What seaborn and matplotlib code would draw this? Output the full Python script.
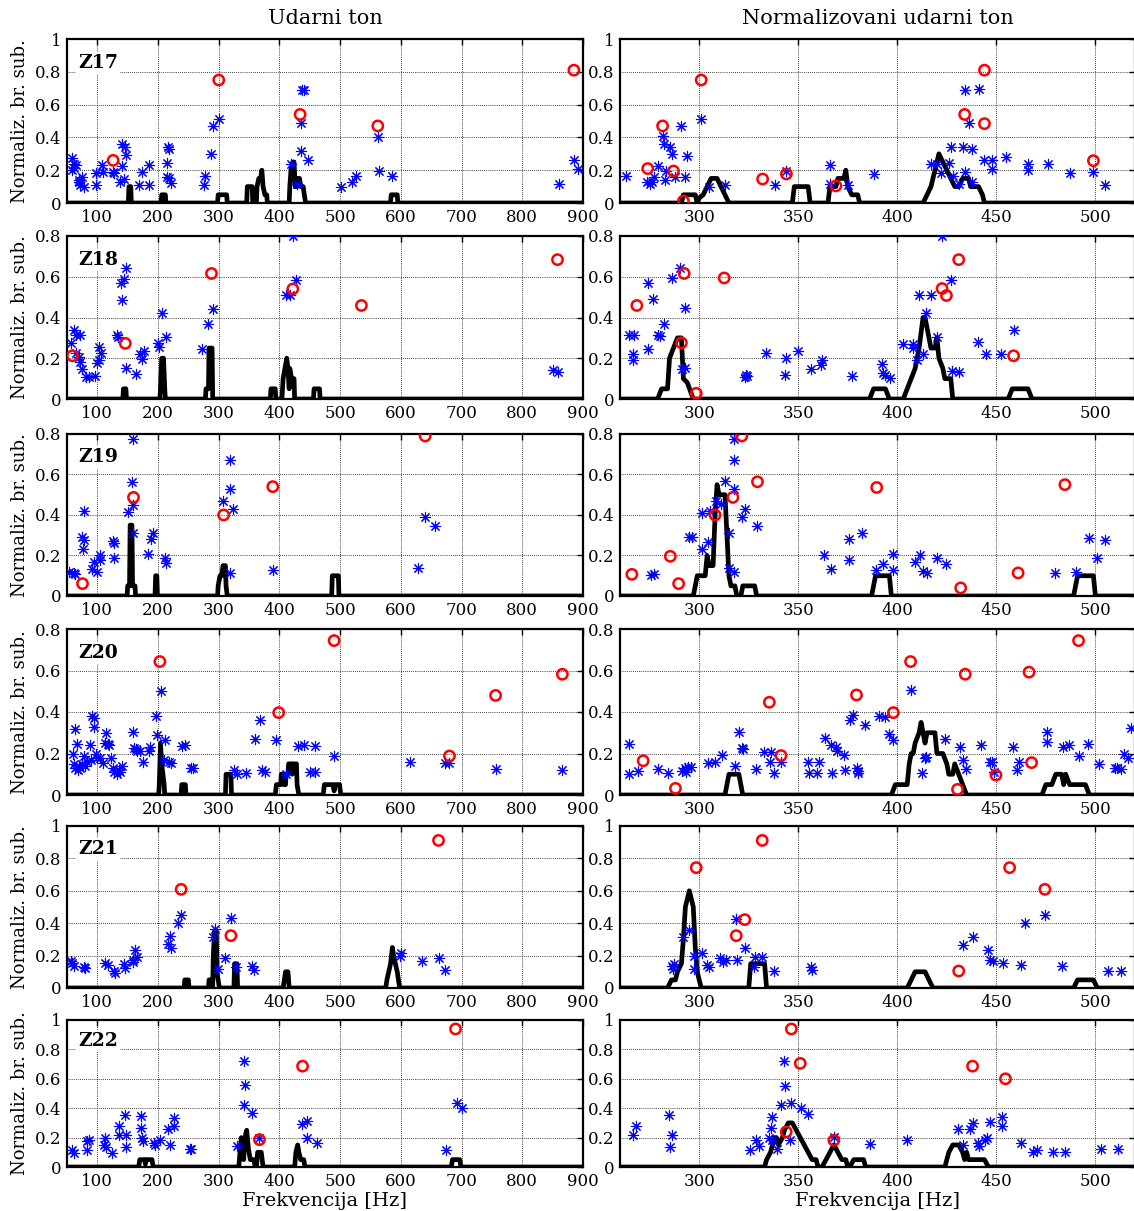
import matplotlib
matplotlib.use("Agg")
import matplotlib.pyplot as plt
from matplotlib.ticker import FuncFormatter, FixedLocator
import seaborn as sns
import pandas as pd

# ---------------- data ----------------
PANELS = ["Z17", "Z18", "Z19", "Z20", "Z21", "Z22"]
YMAX = [1.0, 0.8, 0.8, 0.8, 1.0, 1.0]
LEFT_XLIM = (50, 900)
RIGHT_XLIM = (260, 520)
LEFT_XTICKS = [100, 200, 300, 400, 500, 600, 700, 800, 900]
RIGHT_XTICKS = [300, 350, 400, 450, 500]
COL_TITLES = ["Udarni ton", "Normalizovani udarni ton"]
X_LABEL = "Frekvencija [Hz]"
Y_LABEL = "Normaliz. br. sub."

# Z17
Z17_L_STARS = [(58,0.276),(61,0.24),(62,0.215),(58,0.2),(65,0.23),(69,0.128),(72,0.108),(75,0.16),(78,0.1),(70,0.14),
               (97,0.11),(98,0.18),(108,0.23),(109,0.19),(125,0.19),(128,0.18),(141,0.36),(146,0.34),(148,0.29),(141,0.225),
               (138,0.128),(144,0.145),(169,0.11),(173,0.19),(185,0.23),(185,0.11),(216,0.34),(218,0.33),(215,0.245),(215,0.16),
               (218,0.15),(221,0.125),(277,0.165),(276,0.11),(287,0.3),(291,0.47),(301,0.51),(437,0.687),(441,0.687),(436,0.488),
               (436,0.32),(447,0.26),(419,0.24),(429,0.118),(502,0.1),(520,0.128),(526,0.163),(563,0.40),(564,0.195),(585,0.163),
               (861,0.118),(885,0.264),(891,0.21)]
Z17_L_RINGS = [(126,0.26),(300,0.75),(434,0.54),(562,0.47),(885,0.81)]
Z17_L_CURVE = [(50,0),(151,0),(152,0.1),(155,0.1),(156,0),(205,0),(206,0.05),(212,0.05),(213,0),(298,0),(299,0.05),(313,0.05),
               (314,0),(346,0),(347,0.1),(355,0.1),(356,0),(362,0),(363,0.1),(366,0.15),(369,0.15),(371,0.2),(373,0.1),(376,0.05),
               (379,0.05),(380,0),(416,0),(417,0.1),(419,0.2),(422,0.25),(424,0.25),(426,0.1),(429,0.1),(431,0.15),(433,0.15),
               (435,0.1),(439,0.1),(441,0.05),(443,0),(583,0),(584,0.05),(594,0.05),(595,0),(900,0)]
Z17_R_STARS = [(263,0.163),(273.5,0.128),(275,0.118),(276,0.128),(277,0.158),(279,0.225),(281.5,0.406),(282,0.358),(283,0.195),
               (282.5,0.138),(285,0.34),(286,0.3),(288,0.158),(291,0.47),(293,0.158),(294,0.287),(301,0.514),(305,0.1),(313,0.108),
               (338,0.11),(344,0.195),(366,0.23),(366,0.118),(375,0.11),(388,0.175),(417,0.236),(420,0.24),(422,0.18),(426,0.245),
               (427,0.34),(428,0.163),(431,0.118),(433,0.34),(434,0.19),(434,0.687),(436,0.49),(437.5,0.33),(437.5,0.128),
               (441,0.693),(444,0.264),(448,0.264),(448,0.21),(455,0.28),(466,0.24),(466,0.2),(476,0.236),(487,0.183),(499,0.19),
               (505,0.11)]
Z17_R_RINGS = [(274,0.21),(281.5,0.47),(287,0.195),(292,0.012),(301,0.75),(332,0.146),(344,0.177),(369,0.104),(434,0.54),
               (444,0.81),(444,0.484),(499,0.258)]
Z17_R_CURVE = [(260,0),(291,0),(292,0.05),(298,0.05),(299,0),(300,0.03),(302,0.05),(304,0.1),(306,0.15),(309,0.15),(311,0.1),
               (313,0.05),(315,0),(347,0),(348,0.1),(355,0.1),(356,0),(365,0),(366,0.1),(369,0.1),(370,0.15),(373,0.15),(374,0.2),
               (375,0.1),(377,0.05),(380,0.05),(381,0),(413,0),(415,0.05),(417,0.1),(419,0.2),(421,0.3),(423,0.25),(425,0.2),
               (427,0.15),(429,0.1),(431,0.1),(433,0.15),(436,0.15),(437,0.1),(441,0.1),(443,0.05),(444,0),(520,0)]

# Z18
Z18_L_STARS = [(56,0.276),(61,0.338),(65,0.313),(72,0.312),(69,0.204),(72,0.183),(65,0.227),(75,0.145),(81,0.11),(87,0.11),
               (96,0.113),(100,0.175),(103,0.253),(106,0.224),(103,0.19),(133,0.313),(134,0.302),(139,0.567),(141,0.485),(144,0.59),
               (148,0.645),(148,0.153),(164,0.122),(171,0.22),(173,0.194),(177,0.235),(200,0.273),(202,0.256),(206,0.42),(213,0.305),
               (272,0.243),(283,0.367),(291,0.444),(411,0.51),(418,0.51),(422,0.8),(427,0.586),(850,0.142),(858,0.134)]
Z18_L_RINGS = [(59,0.212),(146,0.273),(288,0.616),(422,0.54),(535,0.459),(858,0.684)]
Z18_L_CURVE = [(50,0),(142,0),(143,0.05),(147,0.05),(148,0),(203,0),(204,0.05),(206,0.2),(209,0.2),(211,0.05),(212,0),(278,0),
               (279,0.05),(283,0.05),(284,0.25),(289,0.25),(290,0),(385,0),(386,0.05),(393,0.05),(394,0),(404,0),(406,0.1),
               (409,0.15),(412,0.2),(414,0.15),(416,0.05),(417,0.15),(420,0.1),(424,0.1),(425,0),(456,0),(457,0.05),(466,0.05),
               (467,0),(900,0)]
Z18_R_STARS = [(264.6,0.313),(267,0.313),(266.5,0.219),(266.5,0.191),(274,0.567),(274,0.243),(276.7,0.49),(279,0.313),(280,0.31),
               (282,0.367),(286,0.594),(290.5,0.643),(292.8,0.447),(291.5,0.147),(293,0.153),(323.5,0.118),(324.3,0.113),(323,0.106),
               (333.7,0.224),(343.7,0.2),(343.3,0.118),(350,0.237),(356.3,0.147),(361.3,0.167),(362,0.191),(377,0.113),(392.4,0.171),
               (393,0.126),(394,0.118),(396.5,0.104),(403,0.268),(407.8,0.268),(408,0.251),(411,0.51),(410,0.19),(413,0.219),
               (414.6,0.423),(416.9,0.51),(420,0.305),(422.6,0.8),(427,0.586),(427.6,0.139),(431,0.134),(440.5,0.281),(444.8,0.219),
               (452.6,0.219),(459,0.338)]
Z18_R_RINGS = [(268.5,0.459),(292.4,0.616),(291,0.276),(298.5,0.028),(312.6,0.594),(422.6,0.542),(424.8,0.508),(431,0.684),
               (458.7,0.212)]
Z18_R_CURVE = [(260,0),(279,0),(281,0.05),(284,0.05),(285,0.2),(287,0.25),(289,0.3),(291,0.3),(292,0.1),(294,0.08),(297,0),
               (386,0),(388,0.05),(394,0.05),(396,0),(403,0),(405,0.05),(407,0.1),(409,0.15),(411,0.25),(413,0.4),(414,0.4),
               (416,0.3),(417,0.25),(419,0.25),(420,0.3),(421,0.2),(423,0.15),(424,0.1),(427,0.1),(428,0),(456,0),(458,0.05),
               (466,0.05),(468,0),(520,0)]

# Z19
Z19_L_STARS = [(53,0.119),(61,0.114),(64,0.107),(78,0.42),(75,0.292),(78,0.276),(77,0.234),(90.6,0.135),(93.7,0.168),(100,0.119),
               (104,0.2),(105,0.177),(125,0.272),(127,0.26),(127,0.19),(150,0.414),(157.6,0.564),(159.5,0.776),(158,0.449),
               (159.5,0.313),(183,0.205),(188,0.28),(191,0.313),(211,0.19),(212.5,0.165),(307,0.47),(318,0.67),(318,0.53),
               (323.6,0.43),(318,0.115),(389,0.127),(629,0.139),(640,0.39),(657,0.345)]
Z19_L_RINGS = [(75.6,0.061),(159.5,0.487),(308,0.4),(389,0.54),(640,0.79)]
Z19_L_CURVE = [(50,0),(149,0),(150,0.05),(153,0.05),(154,0.35),(157,0.35),(158,0.05),(162,0.05),(163,0),(195,0),(196,0.1),
               (198,0.1),(199,0),(298,0),(299,0.05),(302,0.1),(305,0.1),(307,0.15),(311,0.15),(312,0.05),(314,0),(486,0),
               (487,0.1),(497,0.1),(498,0),(900,0)]
Z19_R_STARS = [(275.7,0.102),(277,0.107),(294.6,0.289),(296.5,0.289),(301.3,0.41),(301.3,0.234),(304.4,0.267),(305.4,0.42),
               (308.7,0.47),(311,0.455),(312.8,0.566),(315,0.313),(315.2,0.139),(317.4,0.67),(317.4,0.776),(317.4,0.53),
               (317.4,0.119),(321.5,0.39),(323,0.43),(329.4,0.345),(362.8,0.2),(366.5,0.132),(375.7,0.28),(375.7,0.177),
               (382.2,0.313),(389,0.127),(392.8,0.16),(397.6,0.205),(398,0.127),(408.7,0.168),(411.3,0.2),(413,0.123),(415,0.114),
               (420,0.19),(424.8,0.157),(479.4,0.114),(490,0.119),(497,0.284),(501,0.19),(505,0.276)]
Z19_R_RINGS = [(266,0.107),(285.4,0.196),(289.6,0.061),(308,0.4),(317,0.487),(321.5,0.79),(329.4,0.564),(389.6,0.536),
               (432,0.04),(461,0.114),(484.6,0.55)]
Z19_R_CURVE = [(260,0),(297,0),(299,0.1),(303,0.1),(304,0.2),(305,0.15),(307,0.15),(308,0.4),(309,0.55),(310,0.5),(313,0.5),
               (314,0.3),(315,0.1),(316,0.05),(318,0.05),(319,0),(321,0),(322,0.05),(328,0.05),(329,0),(387,0),(389,0.1),
               (396,0.1),(397,0),(489,0),(491,0.1),(499,0.1),(500,0),(520,0)]

# Z20
Z20_L_STARS = [(60,0.2),(62,0.15),(63,0.13),(64,0.32),(66,0.245),(68,0.12),(70,0.14),(72,0.13),(75,0.15),(78,0.19),(80,0.14),
               (83,0.16),(88,0.24),(90,0.17),(92,0.38),(95,0.37),(94,0.33),(97,0.2),(100,0.18),(105,0.18),(110,0.155),(113,0.25),
               (115,0.3),(117,0.245),(120,0.24),(122,0.18),(125,0.13),(128,0.11),(132,0.1),(135,0.12),(138,0.11),(140,0.14),
               (158,0.305),(160,0.225),(163,0.22),(165,0.21),(170,0.21),(175,0.16),(185,0.21),(186,0.23),(196,0.38),(198,0.29),
               (205,0.5),(210,0.17),(212,0.265),(218,0.16),(222,0.155),(240,0.235),(245,0.24),(255,0.13),(258,0.13),(325,0.12),
               (330,0.1),(345,0.105),(360,0.27),(368,0.36),(372,0.12),(376,0.11),(395,0.265),(410,0.1),(430,0.235),(440,0.24),
               (450,0.11),(458,0.11),(458,0.235),(490,0.19),(615,0.16),(672,0.155),(680,0.155),(757,0.125),(866,0.12)]
Z20_L_RINGS = [(203,0.643),(490,0.744),(398.7,0.397),(756,0.48),(866,0.582),(680,0.188)]
Z20_L_CURVE = [(50,0),(201,0),(202,0.05),(204,0.25),(206,0.15),(208,0.1),(210,0.05),(211,0),(238,0),(239,0.05),(245,0.05),
               (246,0),(311,0),(312,0.1),(320,0.1),(321,0),(393,0),(395,0.05),(402,0.05),(403,0.1),(406,0.1),(407,0.05),
               (410,0.05),(411,0.1),(414,0.1),(415,0.15),(420,0.15),(421,0.1),(422,0.15),(428,0.15),(429,0.05),(432,0),(472,0),
               (474,0.05),(488,0.05),(490,0.02),(492,0.05),(499,0.05),(501,0),(900,0)]
Z20_R_STARS = [(264.6,0.244),(264.3,0.103),(269.3,0.116),(279,0.124),(284,0.104),(291.5,0.116),(292.8,0.128),(294.3,0.137),
               (293.3,0.109),(295.7,0.137),(304.4,0.156),(308,0.16),(311.7,0.193),(318,0.14),(320,0.305),(321.5,0.228),(322,0.222),
               (328.5,0.124),(332.6,0.209),(335.5,0.157),(336.3,0.209),(337.8,0.104),(341.5,0.16),(355,0.16),(355.4,0.104),
               (360.6,0.16),(359.6,0.104),(363.7,0.273),(366.5,0.241),(366.8,0.104),(369,0.233),(369.8,0.212),(373.3,0.193),
               (373.5,0.12),(376,0.361),(377.6,0.385),(379.6,0.128),(380,0.104),(380,0.116),(383.5,0.337),(391,0.38),(394,0.377),
               (396,0.294),(398,0.265),(407,0.506),(412.6,0.104),(414,0.18),(414.6,0.185),(424,0.268),(431.5,0.233),(433,0.168),
               (434.8,0.125),(442,0.241),(446.7,0.16),(448,0.157),(449,0.113),(458.3,0.233),(460.6,0.12),(461.5,0.16),
               (475.7,0.305),(475.7,0.254),(483.5,0.233),(486.5,0.241),(491.9,0.19),(496.3,0.244),(501.9,0.148),(509.7,0.128),
               (511,0.128),(513,0.126),(514.6,0.196),(516.4,0.177),(517.8,0.321)]
Z20_R_RINGS = [(271.7,0.165),(288,0.032),(335.4,0.447),(341.3,0.19),(379.4,0.482),(398,0.397),(406.7,0.643),(430.4,0.027),
               (434.3,0.582),(449.8,0.096),(466.5,0.592),(467.8,0.156),(491.5,0.744)]
Z20_R_CURVE = [(260,0),(313,0),(315,0.1),(320,0.1),(322,0),(397,0),(399,0.05),(405,0.05),(406,0.15),(407,0.2),(408,0.2),
               (409,0.25),(411,0.3),(412,0.35),(413,0.3),(414,0.25),(415,0.3),(419,0.3),(420,0.2),(423,0.2),(425,0.15),(426,0.1),
               (428,0.1),(429,0.15),(431,0.1),(433,0.05),(435,0),(473,0),(475,0.05),(478,0.05),(480,0.1),(483,0.1),(484,0.05),
               (485,0.1),(487,0.05),(495,0.05),(497,0),(520,0)]

# Z21
Z21_L_STARS = [(56,0.165),(59,0.157),(62,0.134),(78,0.13),(79,0.124),(112.5,0.157),(117,0.14),(128,0.105),(129.5,0.093),
               (144,0.146),(146,0.125),(158,0.16),(159.5,0.175),(162.6,0.236),(166,0.19),(217,0.27),(219.6,0.319),(222,0.247),
               (232.6,0.403),(237.8,0.448),(291,0.316),(294,0.366),(298.5,0.12),(309.8,0.185),(319.8,0.434),(328.5,0.13),
               (355.5,0.134),(358,0.113),(598,0.195),(601,0.216),(635.5,0.167),(662,0.185),(673,0.109)]
Z21_L_RINGS = [(238,0.609),(320,0.323),(662,0.911)]
Z21_L_CURVE = [(50,0),(243,0),(244,0.05),(250,0.05),(251,0),(283,0),(284,0.05),(288,0.05),(289,0),(290,0),(291,0.2),(293,0.35),
               (296,0.35),(297,0.1),(299,0.05),(301,0),(325,0),(326,0.15),(330,0.15),(331,0),(406,0),(408,0.05),(410,0.1),
               (414,0.1),(416,0),(575,0),(577,0.05),(580,0.1),(583,0.15),(586,0.25),(588,0.2),(591,0.15),(594,0.1),(596,0.05),
               (598,0),(900,0)]
Z21_R_STARS = [(286,0.134),(287.4,0.15),(287,0.12),(292,0.315),(294.6,0.356),(297.6,0.2),(297.4,0.12),(301.3,0.216),(304,0.14),
               (305,0.13),(310.4,0.185),(311.8,0.16),(313.7,0.175),(318.7,0.428),(319.3,0.17),(323,0.247),(328,0.19),(327.6,0.13),
               (331.7,0.19),(337.8,0.105),(356.3,0.13),(356.8,0.113),(433,0.267),(438,0.315),(445.7,0.237),(447,0.17),
               (448.5,0.167),(453.5,0.154),(462.4,0.14),(464.6,0.401),(474.5,0.448),(483.2,0.136),(506.3,0.103),(513.1,0.103)]
Z21_R_RINGS = [(298.5,0.743),(331.8,0.911),(323,0.422),(318.7,0.323),(431,0.105),(456.7,0.743),(474.5,0.609)]
Z21_R_CURVE = [(260,0),(284,0),(286,0.05),(288,0.05),(289,0.1),(291,0.15),(292,0.3),(293,0.5),(295,0.6),(297,0.5),(298,0.25),
               (299,0.1),(300,0.05),(301,0),(325,0),(326,0.15),(333,0.15),(334,0),(405,0),(407,0.05),(409,0.1),(414,0.1),
               (416,0.05),(418,0),(489,0),(491,0.05),(499,0.05),(501,0),(520,0)]

# Z22
Z22_L_STARS = [(59,0.114),(62,0.095),(83,0.114),(83,0.18),(86,0.186),(112.5,0.2),(110.6,0.148),(114,0.136),(124.4,0.095),
               (136,0.28),(136,0.216),(145.6,0.352),(147.5,0.216),(147.5,0.136),(171.8,0.345),(171.8,0.268),(173.7,0.198),
               (175,0.18),(194,0.16),(195,0.148),(203,0.186),(217,0.26),(219,0.148),(226.5,0.336),(227,0.28),(252,0.12),
               (255,0.12),(330,0.14),(342,0.72),(343.6,0.557),(342,0.42),(354.5,0.364),(367,0.198),(436.5,0.295),(445,0.313),
               (445,0.2),(461,0.16),(675,0.118),(692,0.436),(701,0.398)]
Z22_L_RINGS = [(367,0.186),(438,0.686),(690,0.939)]
Z22_L_CURVE = [(50,0),(168,0),(170,0.05),(178,0.05),(179,0.02),(181,0.05),(190,0.05),(192,0),(333,0),(335,0.1),(337,0.2),
               (339,0.12),(341,0.05),(343,0.2),(346,0.25),(349,0.12),(352,0.05),(358,0.05),(360,0),(362,0),(364,0.1),(370,0.1),
               (373,0),(425,0),(427,0.1),(430,0.15),(432,0.1),(435,0.05),(440,0.05),(442,0),(683,0),(685,0.05),(697,0.05),
               (699,0),(900,0)]
Z22_R_STARS = [(266.5,0.216),(268.3,0.28),(284.6,0.352),(286,0.22),(285.4,0.136),(325.4,0.114),(328.5,0.182),(330,0.141),
               (336.9,0.341),(336,0.268),(335.4,0.2),(336.5,0.186),(339.3,0.125),(341.5,0.42),(342.8,0.723),(343.3,0.55),
               (346.5,0.436),(346,0.182),(351.3,0.402),(355,0.36),(368,0.205),(386,0.155),(405,0.186),(430.7,0.261),(433,0.152),
               (436.5,0.261),(438,0.3),(440.6,0.164),(441,0.141),(444.3,0.186),(445.3,0.2),(446.6,0.307),(452.8,0.341),(453,0.28),
               (462.6,0.164),(468.5,0.102),(470.4,0.118),(478.7,0.102),(484.8,0.102),(503,0.12),(511.5,0.125)]
Z22_R_RINGS = [(346.5,0.939),(351,0.705),(343.9,0.239),(368,0.182),(438,0.686),(454.6,0.6)]
Z22_R_CURVE = [(260,0),(333,0),(334,0.05),(336,0.1),(337,0.15),(338,0.2),(339,0.2),(340,0.15),(342,0.2),(343,0.25),(345,0.3),
               (347,0.3),(349,0.25),(351,0.2),(353,0.15),(355,0.1),(357,0.05),(359,0.05),(360,0),(362,0),(364,0.05),(366,0.1),
               (368,0.15),(370,0.1),(372,0.05),(374,0.05),(375,0),(376,0),(378,0.05),(383,0.05),(384,0),(424,0),(426,0.1),
               (428,0.15),(431,0.15),(433,0.1),(434,0.05),(435,0.1),(436,0.05),(444,0.05),(446,0),(520,0)]

LEFT_DATA = [(Z17_L_STARS, Z17_L_RINGS, Z17_L_CURVE), (Z18_L_STARS, Z18_L_RINGS, Z18_L_CURVE),
             (Z19_L_STARS, Z19_L_RINGS, Z19_L_CURVE), (Z20_L_STARS, Z20_L_RINGS, Z20_L_CURVE),
             (Z21_L_STARS, Z21_L_RINGS, Z21_L_CURVE), (Z22_L_STARS, Z22_L_RINGS, Z22_L_CURVE)]
RIGHT_DATA = [(Z17_R_STARS, Z17_R_RINGS, Z17_R_CURVE), (Z18_R_STARS, Z18_R_RINGS, Z18_R_CURVE),
              (Z19_R_STARS, Z19_R_RINGS, Z19_R_CURVE), (Z20_R_STARS, Z20_R_RINGS, Z20_R_CURVE),
              (Z21_R_STARS, Z21_R_RINGS, Z21_R_CURVE), (Z22_R_STARS, Z22_R_RINGS, Z22_R_CURVE)]

# ---------------- style ----------------
sns.set_theme(style="white")
plt.rcParams["font.family"] = ["DejaVu Serif"]
plt.rcParams["axes.linewidth"] = 1.6
plt.rcParams["text.color"] = "black"
plt.rcParams["axes.labelcolor"] = "black"
plt.rcParams["xtick.color"] = "black"
plt.rcParams["ytick.color"] = "black"

W, H = 1134, 1211
fig = plt.figure(figsize=(W / 100, H / 100), dpi=100)

ROWS_PX = [(39, 203), (236, 399), (434, 596), (629, 795), (826, 988), (1020, 1167)]
LEFT_PX = (67, 583)
RIGHT_PX = (620, 1135)

ASTER = (8, 2, 0)
fmt = FuncFormatter(lambda v, p: f"{v:g}")


def make_ax(xpx, ypx):
    x0, x1 = xpx
    t, b = ypx
    return fig.add_axes([x0 / W, 1 - b / H, (x1 - x0) / W, (b - t) / H])


def draw(ax, stars, rings, curve, xlim, xticks, ymax):
    cdf = pd.DataFrame(curve, columns=["f", "v"])
    sdf = pd.DataFrame(stars, columns=["f", "v"])
    rdf = pd.DataFrame(rings, columns=["f", "v"])
    sns.lineplot(data=cdf, x="f", y="v", ax=ax, sort=False, estimator=None, color="black",
                 linewidth=3.4, zorder=3, solid_joinstyle="round", solid_capstyle="round")
    sns.scatterplot(data=sdf, x="f", y="v", ax=ax, marker=ASTER, s=55, color="blue",
                    edgecolor="blue", linewidth=0.8, zorder=4)
    sns.scatterplot(data=rdf, x="f", y="v", ax=ax, marker="o", s=55, facecolor="none",
                    edgecolor="red", linewidth=1.8, zorder=5)
    ax.set_xlim(*xlim)
    ax.set_ylim(0, ymax)
    ax.xaxis.set_major_locator(FixedLocator(xticks))
    step = 0.2
    yt = [round(i * step, 1) for i in range(int(round(ymax / step)) + 1)]
    ax.yaxis.set_major_locator(FixedLocator(yt))
    ax.yaxis.set_major_formatter(fmt)
    ax.xaxis.set_major_formatter(fmt)
    ax.grid(True, color="black", linestyle=(0, (1, 1.5)), linewidth=0.6)
    ax.set_axisbelow(True)
    ax.tick_params(axis="both", direction="in", length=4, width=1, labelsize=12,
                   top=True, right=True, pad=4, colors="black")
    ax.set_xlabel("")
    ax.set_ylabel("")
    for s in ax.spines.values():
        s.set_color("black")
        s.set_linewidth(1.6)


for i, name in enumerate(PANELS):
    axl = make_ax(LEFT_PX, ROWS_PX[i])
    st, rg, cv = LEFT_DATA[i]
    draw(axl, st, rg, cv, LEFT_XLIM, LEFT_XTICKS, YMAX[i])
    axl.set_ylabel(Y_LABEL, fontsize=13, labelpad=4, color="black")
    axl.text(0.022, 0.855, name, transform=axl.transAxes, fontsize=13.5, fontweight="bold",
             color="black", ha="left", va="center", zorder=6,
             bbox=dict(facecolor="white", edgecolor="none", pad=1.5))
    axr = make_ax(RIGHT_PX, ROWS_PX[i])
    st, rg, cv = RIGHT_DATA[i]
    draw(axr, st, rg, cv, RIGHT_XLIM, RIGHT_XTICKS, YMAX[i])
    if i == len(PANELS) - 1:
        axl.set_xlabel(X_LABEL, fontsize=14, labelpad=2, color="black")
        axr.set_xlabel(X_LABEL, fontsize=14, labelpad=2, color="black")

fig.text((LEFT_PX[0] + LEFT_PX[1]) / 2 / W, 1 - 18 / H, COL_TITLES[0], ha="center", va="center",
         fontsize=15, color="black")
fig.text((RIGHT_PX[0] + RIGHT_PX[1]) / 2 / W, 1 - 18 / H, COL_TITLES[1], ha="center", va="center",
         fontsize=15, color="black")

fig.savefig("out.png", dpi=100, facecolor="white")
